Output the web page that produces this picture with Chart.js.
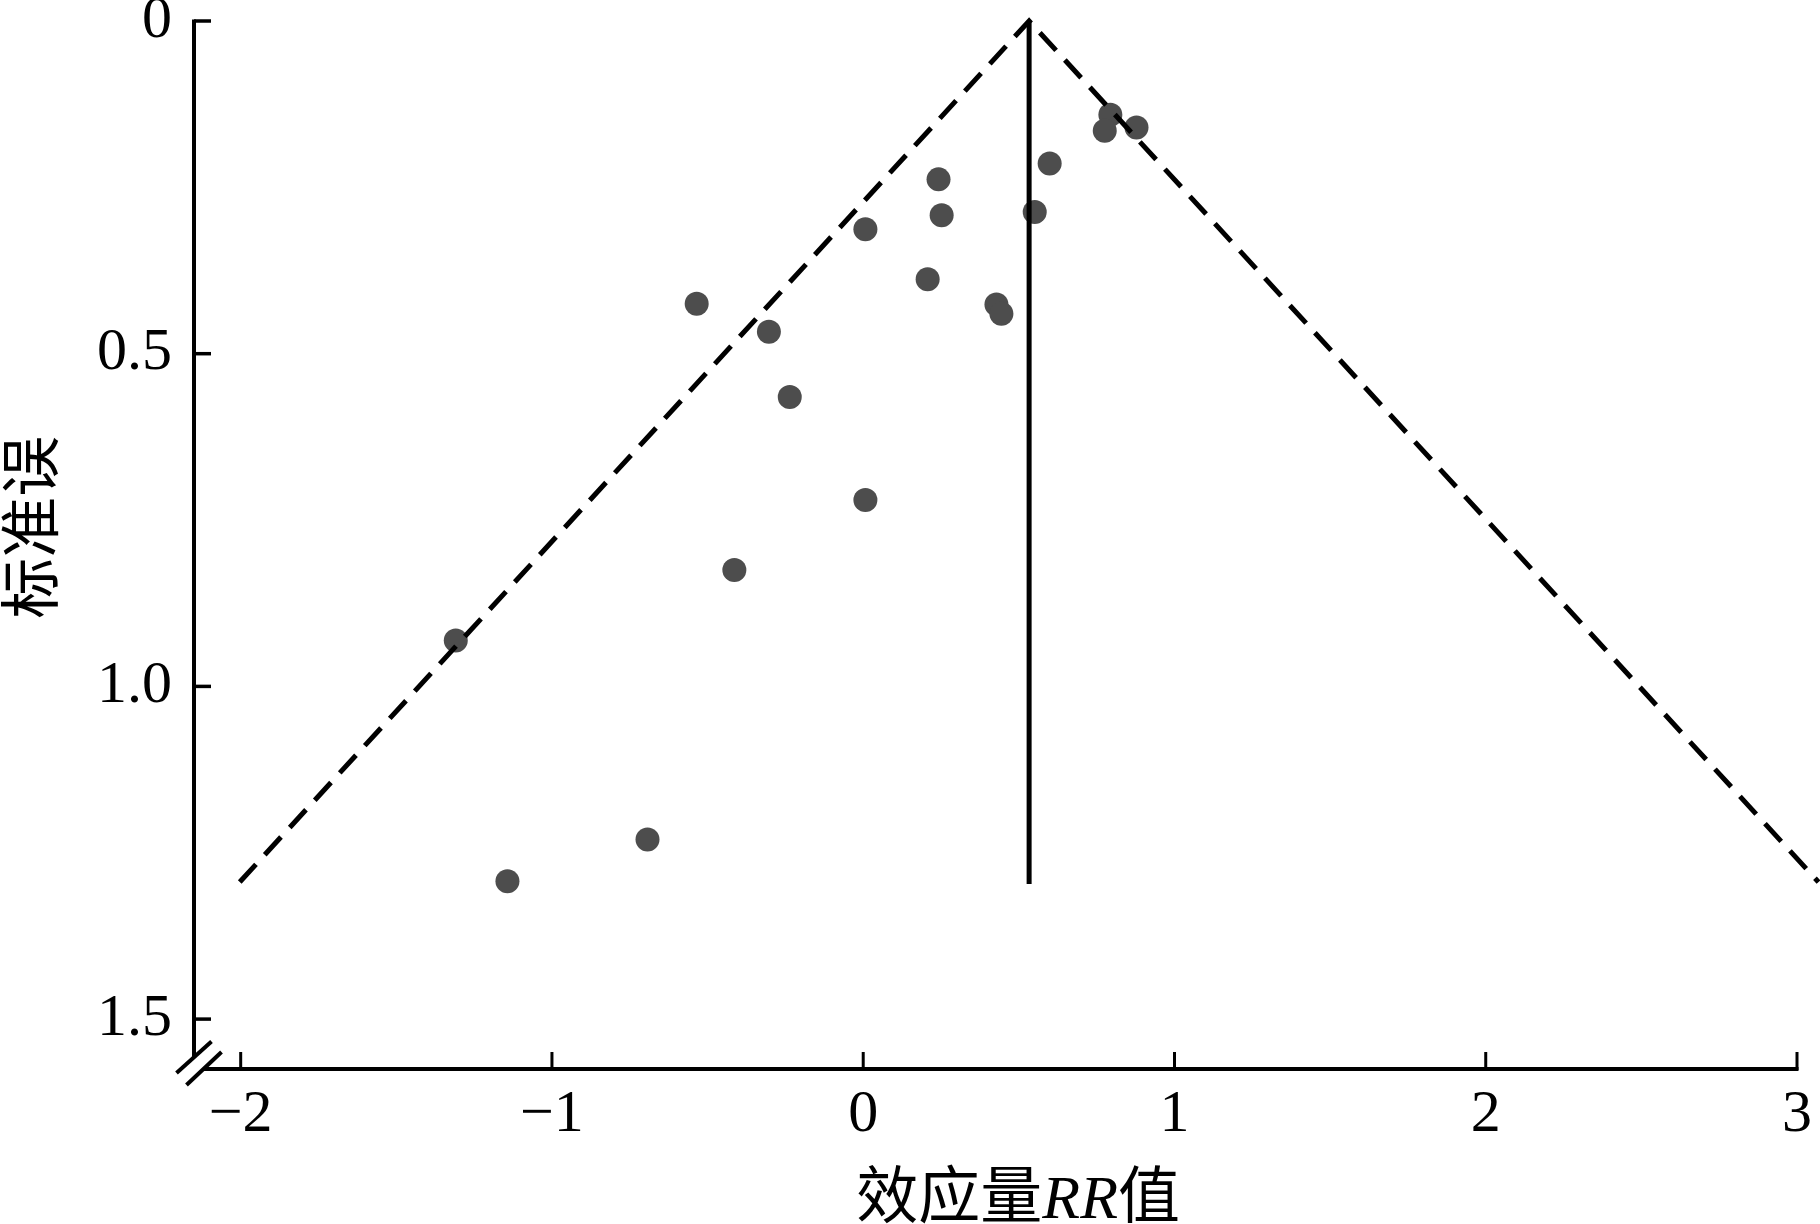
<!DOCTYPE html>
<html><head><meta charset="utf-8">
<script src="https://cdn.jsdelivr.net/npm/chart.js@4/dist/chart.umd.min.js"></script>
<style>html,body{margin:0;padding:0;background:#fff;} #wrap{width:1820px;height:1224px;position:relative;}</style>
</head><body><div id="wrap"><canvas id="c" width="1820" height="1224"></canvas></div>
<script>
// ---- data ----
const xTickValues = [-2, -1, 0, 1, 2, 3];
const xTickLabels = ['\u22122', '\u22121', '0', '1', '2', '3'];
const yTickValues = [0, 0.5, 1.0, 1.5];
const yTickLabels = ['0', '0.5', '1.0', '1.5'];

const effectRR = [0.794, 0.776, 0.878, 0.599, 0.242, 0.252, 0.551, 0.007, 0.207, 0.428, 0.444, -0.535, -0.303, -0.236, 0.007, -0.414, -1.309, -0.693, -1.143];
const stdErr   = [0.141, 0.165, 0.160, 0.214, 0.238, 0.292, 0.287, 0.313, 0.388, 0.426, 0.440, 0.425, 0.467, 0.565, 0.720, 0.825, 0.931, 1.230, 1.293];

const funnelX = [-2.003, 0.533, 3.069];
const funnelY = [1.294, 0, 1.294];
const pooledX = [0.533, 0.533];
const pooledY = [0, 1.297];

const xTitleParts = ['效应量', 'RR', '值'];
const yTitle = '标准误';

// ---- chart ----
const serif = '"Liberation Serif", "Times New Roman", serif';
const cjk = '"Noto Sans CJK SC", "Noto Sans CJK JP", sans-serif';

const axesPlugin = {
  id: 'axesPlugin',
  afterDraw(chart) {
    const ctx = chart.ctx, ca = chart.chartArea;
    const xs = chart.scales.x, ys = chart.scales.y;
    ctx.save();
    ctx.strokeStyle = '#000';
    ctx.lineCap = 'butt';
    // y axis line
    ctx.lineWidth = 4;
    ctx.beginPath(); ctx.moveTo(ca.left, ca.top - 1.5); ctx.lineTo(ca.left, ca.bottom - 12); ctx.stroke();
    // x axis line
    ctx.beginPath(); ctx.moveTo(ca.left + 10, ca.bottom); ctx.lineTo(ca.right + 1.5, ca.bottom); ctx.stroke();
    // y ticks (inward)
    ctx.lineWidth = 3.5;
    yTickValues.forEach(v => {
      const p = ys.getPixelForValue(v);
      ctx.beginPath(); ctx.moveTo(ca.left, p); ctx.lineTo(ca.left + 17, p); ctx.stroke();
    });
    // x ticks (inward)
    ctx.lineWidth = 3;
    xTickValues.forEach(v => {
      const p = xs.getPixelForValue(v);
      ctx.beginPath(); ctx.moveTo(p, ca.bottom + 1); ctx.lineTo(p, ca.bottom - 17); ctx.stroke();
    });
    // axis break marks
    ctx.lineWidth = 4;
    ctx.beginPath(); ctx.moveTo(ca.left - 17.5, ca.bottom + 4); ctx.lineTo(ca.left + 17.5, ca.bottom - 27.5); ctx.stroke();
    ctx.beginPath(); ctx.moveTo(ca.left - 7.5, ca.bottom + 16); ctx.lineTo(ca.left + 27.5, ca.bottom - 17); ctx.stroke();

    // y title
    ctx.fillStyle = '#000';
    ctx.save();
    ctx.translate(ca.left - 164, ys.getPixelForValue(0.761));
    ctx.rotate(-Math.PI / 2);
    ctx.font = '61px ' + cjk;
    ctx.textAlign = 'center';
    ctx.textBaseline = 'middle';
    ctx.fillText(yTitle, 0, 0);
    ctx.restore();

    // x title (mixed fonts)
    const fonts = ['62px ' + cjk, 'italic 62px ' + serif, '62px ' + cjk];
    let widths = xTitleParts.map((t, i) => { ctx.font = fonts[i]; return ctx.measureText(t).width; });
    const total = widths.reduce((a, b) => a + b, 0);
    let x = xs.getPixelForValue(0.498) - total / 2;
    const baseY = ca.bottom + 149;
    ctx.textAlign = 'left';
    ctx.textBaseline = 'alphabetic';
    xTitleParts.forEach((t, i) => { ctx.font = fonts[i]; ctx.fillText(t, x, baseY); x += widths[i]; });
    ctx.restore();
  }
};

const points = effectRR.map((x, i) => ({ x: x, y: stdErr[i] }));
const funnel = funnelX.map((x, i) => ({ x: x, y: funnelY[i] }));
const pooled = pooledX.map((x, i) => ({ x: x, y: pooledY[i] }));

new Chart(document.getElementById('c'), {
  type: 'scatter',
  data: {
    datasets: [
      { type: 'line', data: funnel, borderColor: '#000', borderWidth: 5, borderDash: [24, 13], pointRadius: 0, fill: false, clip: false, tension: 0, order: 0 },
      { type: 'line', data: pooled, borderColor: '#000', borderWidth: 5, pointRadius: 0, fill: false, clip: false, tension: 0, order: 0 },
      { data: points, pointRadius: 12, pointBackgroundColor: '#4d4d4d', pointBorderWidth: 0, backgroundColor: '#4d4d4d', borderColor: '#4d4d4d', order: 1 }
    ]
  },
  options: {
    responsive: false,
    animation: false,
    devicePixelRatio: 1,
    layout: { padding: { left: 0, right: 23, top: 21, bottom: 0 } },
    plugins: { legend: { display: false }, tooltip: { enabled: false } },
    scales: {
      x: {
        type: 'linear', min: -2.15, max: 3,
        grid: { display: false, drawTicks: false },
        border: { display: false },
        ticks: {
          autoSkip: false, padding: 10, color: '#000', maxRotation: 0,
          font: { family: serif, size: 60 },
          callback: (v) => { const i = xTickValues.indexOf(v); return i >= 0 ? xTickLabels[i] : ''; }
        },
        afterBuildTicks: (s) => { s.ticks = xTickValues.map(v => ({ value: v })); },
        afterFit: (s) => { s.height = 155; s.paddingLeft = 0; s.paddingRight = 0; }
      },
      y: {
        type: 'linear', reverse: true, min: 0, max: 1.575,
        grid: { display: false, drawTicks: false },
        border: { display: false },
        ticks: {
          autoSkip: false, padding: 22, color: '#000',
          font: { family: serif, size: 60 },
          callback: (v) => { const i = yTickValues.indexOf(v); return i >= 0 ? yTickLabels[i] : ''; }
        },
        afterBuildTicks: (s) => { s.ticks = yTickValues.map(v => ({ value: v })); },
        afterFit: (s) => { s.width = 194; s.paddingTop = 0; s.paddingBottom = 0; }
      }
    }
  },
  plugins: [axesPlugin]
});
</script>
</body></html>
